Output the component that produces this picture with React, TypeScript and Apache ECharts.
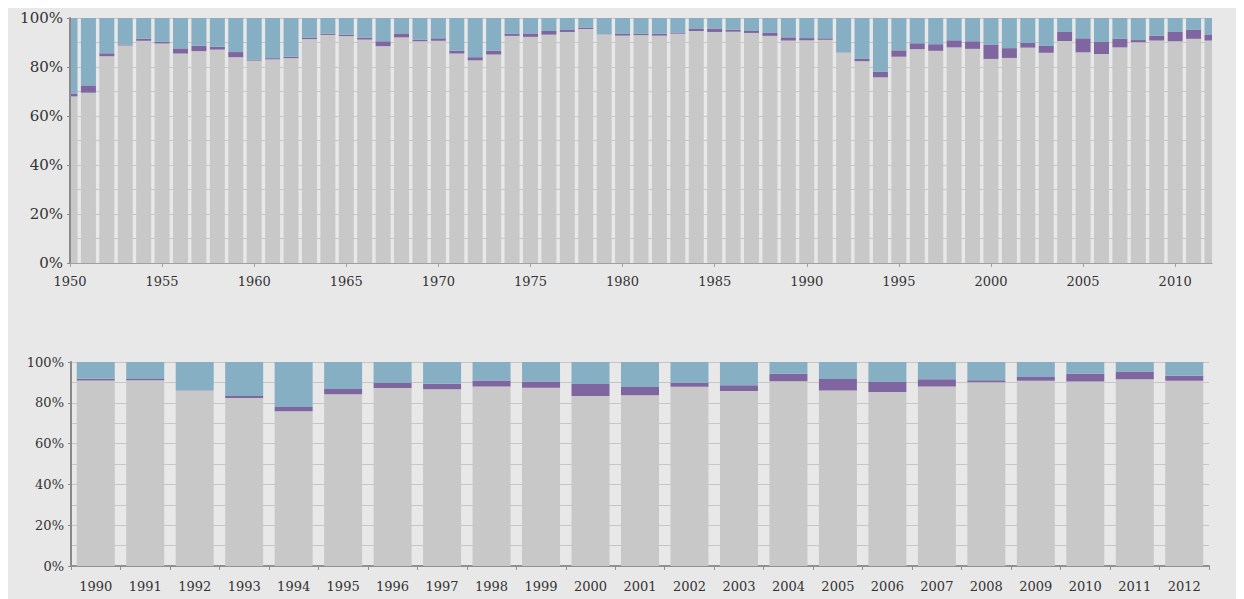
import React, { useEffect, useRef } from "react";
import * as echarts from "echarts";

const years = [
  1950, 1951, 1952, 1953, 1954, 1955, 1956, 1957, 1958, 1959,
  1960, 1961, 1962, 1963, 1964, 1965, 1966, 1967, 1968, 1969,
  1970, 1971, 1972, 1973, 1974, 1975, 1976, 1977, 1978, 1979,
  1980, 1981, 1982, 1983, 1984, 1985, 1986, 1987, 1988, 1989,
  1990, 1991, 1992, 1993, 1994, 1995, 1996, 1997, 1998, 1999,
  2000, 2001, 2002, 2003, 2004, 2005, 2006, 2007, 2008, 2009,
  2010, 2011, 2012,
];

const grayShare = [
  68.0, 69.5, 84.4, 88.8, 90.7, 89.6, 85.5, 86.5, 87.1, 84.0,
  82.6, 83.1, 83.6, 91.4, 93.1, 92.6, 91.2, 88.5, 92.1, 90.5,
  90.7, 85.5, 82.7, 85.1, 92.7, 92.3, 93.2, 94.3, 95.5, 93.3,
  92.8, 93.0, 92.8, 93.6, 94.7, 94.3, 94.4, 93.9, 92.7, 90.8,
  90.9, 91.1, 86.0, 82.4, 75.8, 84.2, 87.3, 86.6, 88.0, 87.4,
  83.3, 83.7, 87.9, 85.8, 90.6, 86.0, 85.3, 88.0, 90.1, 90.8,
  90.5, 91.5, 90.8,
];

const purpleShare = [
  1.2, 3.0, 1.2, 0.4, 0.9, 0.7, 2.1, 2.2, 1.2, 2.1,
  0.3, 0.5, 0.6, 0.6, 0.5, 0.6, 0.8, 2.0, 1.6, 0.7,
  1.0, 1.2, 1.3, 1.6, 0.8, 1.4, 1.5, 0.8, 0.6, 0.1,
  0.7, 0.6, 0.8, 0.5, 0.8, 1.4, 0.8, 0.8, 1.2, 1.3,
  0.9, 0.6, 0.1, 0.9, 2.2, 2.6, 2.4, 2.7, 2.9, 3.1,
  5.9, 4.0, 1.9, 2.8, 3.7, 5.7, 4.9, 3.5, 0.9, 1.9,
  3.8, 3.8, 2.5,
];

const blueShare = [
  30.8, 27.5, 14.4, 10.8, 8.4, 9.7, 12.4, 11.3, 11.7, 13.9,
  17.1, 16.4, 15.8, 8.0, 6.4, 6.8, 8.0, 9.5, 6.3, 8.8,
  8.3, 13.3, 16.0, 13.3, 6.5, 6.3, 5.3, 4.9, 3.9, 6.6,
  6.5, 6.4, 6.4, 5.9, 4.5, 4.3, 4.8, 5.3, 6.1, 7.9,
  8.2, 8.3, 13.9, 16.7, 22.0, 13.2, 10.3, 10.7, 9.1, 9.5,
  10.8, 12.3, 10.2, 11.4, 5.7, 8.3, 9.8, 8.5, 9.0, 7.3,
  5.7, 4.7, 6.7,
];

const zoomStartYear = 1990;

const BG = "#e8e8e8";
const GRAY = "#c8c8c8";
const PURPLE = "#8066a0";
const BLUE = "#86afc4";
const GRID_LINE = "#c6c6c6";
const FONT = "DejaVu Serif";

const TOP = { left: 62, top: 10, width: 1142, height: 245 };
const BOTTOM = { left: 63, top: 354, width: 1138, height: 204 };

export default function App() {
  const ref = useRef<HTMLDivElement>(null);

  useEffect(() => {
    if (!ref.current) return;
    const chart = echarts.init(ref.current, undefined, { renderer: "svg" });

    const allYears = years.map(String);
    const startIdx = years.indexOf(zoomStartYear);
    const zYears = allYears.slice(startIdx);
    const zGray = grayShare.slice(startIdx);
    const zPurple = purpleShare.slice(startIdx);
    const zBlue = blueShare.slice(startIdx);

    const pctAxis = (fontSize: number, gridIndex: number, z: number, showSplit: boolean) => ({
      type: "value",
      gridIndex,
      min: 0,
      max: 100,
      interval: 20,
      z,
      axisLine: { show: true, lineStyle: { color: "#8a8a8a", width: 2 } },
      axisTick: { show: true, length: 3, lineStyle: { color: "#8a8a8a" } },
      axisLabel: {
        formatter: "{value}%",
        fontFamily: FONT,
        fontSize,
        color: "#333",
        margin: 7,
      },
      splitLine: { show: showSplit, lineStyle: { color: GRID_LINE, width: 1 } },
      minorTick: { show: false, splitNumber: 2 },
      minorSplitLine: { show: showSplit, lineStyle: { color: GRID_LINE, width: 1 } },
    });

    const gridOnlyAxis = {
      type: "value",
      gridIndex: 0,
      position: "right",
      min: 0,
      max: 100,
      interval: 20,
      z: 0,
      axisLine: { show: false },
      axisTick: { show: false },
      axisLabel: { show: false },
      splitLine: { show: true, lineStyle: { color: GRID_LINE, width: 1 } },
      minorTick: { show: false, splitNumber: 2 },
      minorSplitLine: { show: true, lineStyle: { color: GRID_LINE, width: 1 } },
    };

    const mk = (name: string, color: string, data: number[], axis: number, width: number) => ({
      type: "bar",
      name,
      xAxisIndex: axis,
      yAxisIndex: axis,
      stack: axis === 0 ? "top" : "bottom",
      barWidth: width,
      clip: true,
      itemStyle: { color },
      data,
    });

    const option: any = {
      animation: false,
      backgroundColor: BG,
      grid: [TOP, BOTTOM],
      graphic: [
        {
          type: "rect",
          z: 5,
          silent: true,
          shape: { x: TOP.left - 10, y: TOP.top - 1, width: 9, height: TOP.height + 2 },
          style: { fill: BG },
        },
        {
          type: "rect",
          z: 5,
          silent: true,
          shape: { x: TOP.left + TOP.width, y: TOP.top - 1, width: 12, height: TOP.height + 2 },
          style: { fill: BG },
        },
      ],
      xAxis: [
        {
          type: "category",
          gridIndex: 0,
          data: allYears,
          boundaryGap: false,
          z: 10,
          axisLine: { show: true, lineStyle: { color: "#a0a0a0", width: 1 } },
          axisTick: {
            show: true,
            length: 4,
            interval: 4,
            alignWithLabel: true,
            lineStyle: { color: "#a0a0a0" },
          },
          axisLabel: {
            interval: 4,
            fontFamily: FONT,
            fontSize: 13,
            color: "#333",
            margin: 12,
          },
          splitLine: { show: false },
        },
        {
          type: "category",
          gridIndex: 1,
          data: zYears,
          boundaryGap: true,
          axisLine: { show: true, lineStyle: { color: "#909090", width: 2 } },
          axisTick: { show: true, length: 4, lineStyle: { color: "#909090" } },
          axisLabel: {
            fontFamily: FONT,
            fontSize: 13,
            color: "#333",
            margin: 14,
          },
          splitLine: { show: false },
        },
      ],
      yAxis: [
        pctAxis(15, 0, 10, false),
        pctAxis(13, 1, 0, true),
        gridOnlyAxis,
      ],
      series: [
        mk("gray", GRAY, grayShare, 0, 15),
        mk("purple", PURPLE, purpleShare, 0, 15),
        mk("blue", BLUE, blueShare, 0, 15),
        mk("gray", GRAY, zGray, 1, 38),
        mk("purple", PURPLE, zPurple, 1, 38),
        mk("blue", BLUE, zBlue, 1, 38),
      ],
    };

    chart.setOption(option);
    return () => chart.dispose();
  }, []);

  return (
    <div
      ref={ref}
      style={{ width: 1236, height: 591, background: BG }}
    />
  );
}
